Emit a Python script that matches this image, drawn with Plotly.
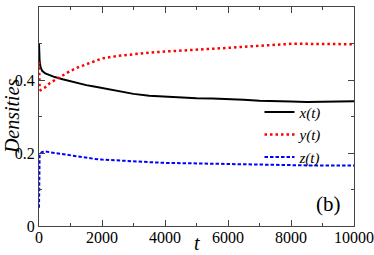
import plotly.graph_objects as go

t = [0, 20, 50, 100, 200, 350, 500, 750, 1000, 1250, 1500, 1750, 2000, 2500, 3000,
     3500, 4000, 4500, 5000, 5500, 6000, 6500, 7000, 7500, 8000, 8500, 9000, 9500, 10000]
x_t = [0.50, 0.45, 0.435, 0.425, 0.418, 0.412, 0.408, 0.402, 0.396, 0.390, 0.386, 0.382,
       0.378, 0.370, 0.362, 0.357, 0.354, 0.352, 0.350, 0.349, 0.348, 0.346, 0.343,
       0.341, 0.341, 0.340, 0.341, 0.342, 0.342]
y_t = [0.45, 0.375, 0.372, 0.374, 0.380, 0.392, 0.400, 0.414, 0.425, 0.435, 0.443, 0.452,
       0.459, 0.466, 0.471, 0.475, 0.478, 0.480, 0.482, 0.486, 0.488, 0.491, 0.494,
       0.497, 0.499, 0.499, 0.498, 0.499, 0.498]
z_t = [0.05, 0.195, 0.200, 0.203, 0.204, 0.202, 0.200, 0.196, 0.193, 0.189, 0.186, 0.184,
       0.182, 0.179, 0.176, 0.175, 0.173, 0.172, 0.172, 0.171, 0.171, 0.170, 0.168,
       0.167, 0.167, 0.166, 0.166, 0.166, 0.166]

x_ticks = [0, 2000, 4000, 6000, 8000, 10000]
x_ticktext = ["0", "2000", "4000", "6000", "8000", "10000"]
y_ticks = [0, 0.2, 0.4, 0.6]
y_ticktext = ["0", "0.2", "0.4", "0.6"]

font = "Liberation Serif"

fig = go.Figure()
fig.add_trace(go.Scatter(x=t, y=x_t, mode="lines", name="<i>x(t)</i>",
                         line=dict(color="black", width=2)))
fig.add_trace(go.Scatter(x=t, y=y_t, mode="lines", name="<i>y(t)</i>",
                         line=dict(color="red", width=2.5, dash="2.5px,3px")))
fig.add_trace(go.Scatter(x=t, y=z_t, mode="lines", name="<i>z(t)</i>",
                         line=dict(color="blue", width=2, dash="3.5px,2px")))

axis_common = dict(showline=True, linecolor="#444", linewidth=1, mirror="ticks",
                   ticks="inside", ticklen=6, tickcolor="#444", showgrid=False,
                   zeroline=False, automargin=False,
                   tickfont=dict(family=font, size=16, color="black"))

fig.update_xaxes(range=[0, 10000], tickvals=x_ticks, ticktext=x_ticktext,
                 minor=dict(ticks="inside", ticklen=3, dtick=1000, tickcolor="#444"),
                 ticklabelstandoff=-3,
                 **axis_common)
fig.update_yaxes(range=[0, 0.6], tickvals=y_ticks, ticktext=y_ticktext,
                 minor=dict(ticks="inside", ticklen=3, dtick=0.1, tickcolor="#444"),
                 **axis_common)

fig.add_annotation(x=9200, y=0.06, text="(b)", showarrow=False,
                   font=dict(family=font, size=21, color="black"))
fig.add_annotation(xref="paper", yref="paper", x=0.5, y=-0.132, yanchor="bottom",
                   text="<i>t</i>", showarrow=False, borderpad=0,
                   font=dict(family=font, size=20, color="black"))
fig.add_annotation(xref="paper", yref="paper", x=-0.087, y=0.5, xanchor="center",
                   text="<i>Densities</i>", showarrow=False, textangle=-90,
                   font=dict(family=font, size=20, color="black"))

fig.update_layout(
    width=374, height=255,
    margin=dict(l=39, r=20, t=7, b=29),
    paper_bgcolor="white", plot_bgcolor="white",
    legend=dict(x=0.70, y=0.595, xanchor="left", yanchor="top",
                bgcolor="rgba(0,0,0,0)", borderwidth=0,
                font=dict(family=font, size=15, color="black"),
                itemwidth=30, tracegroupgap=0),
)

fig.write_html("out.html", config={"displayModeBar": False},
               post_script="document.body.style.margin='0';document.body.style.padding='0';")
